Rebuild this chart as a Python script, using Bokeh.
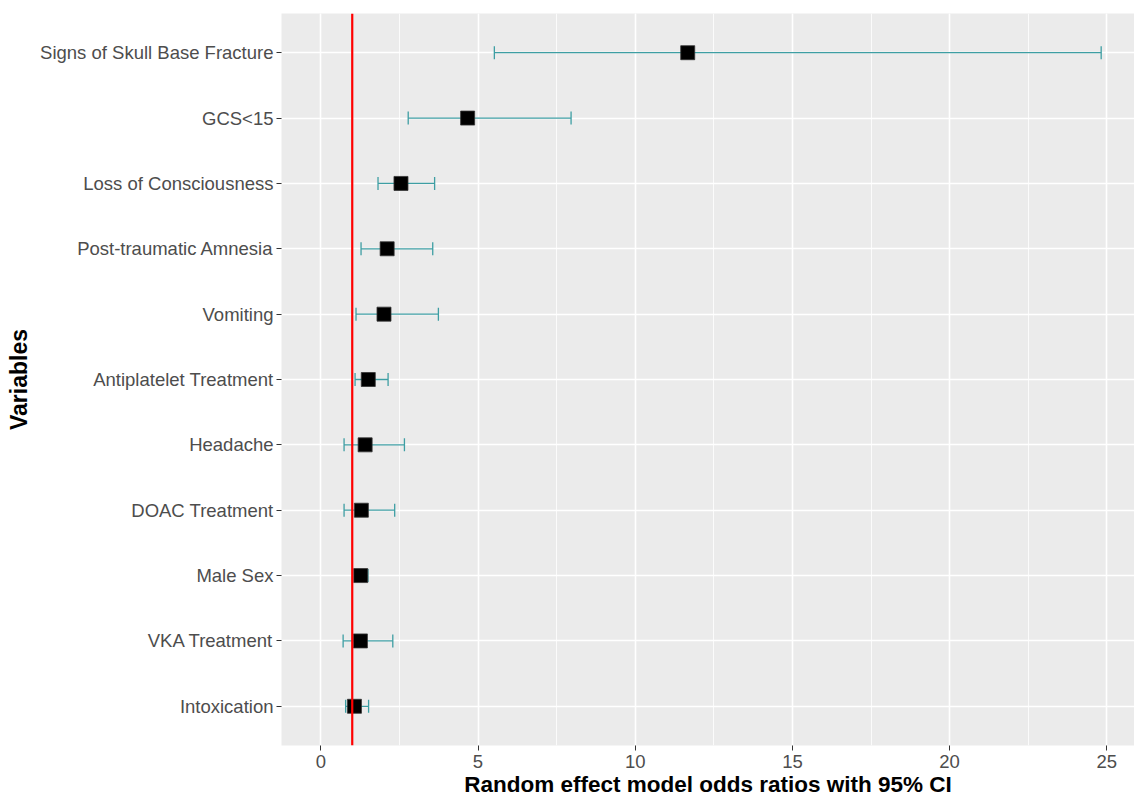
from bokeh.plotting import figure
from bokeh.models import (ColumnDataSource, FactorRange, Range1d, Whisker, TeeHead,
                          SingleIntervalTicker, Span)
from bokeh.embed import file_html
from bokeh.resources import INLINE

# Data (top to bottom as shown)
variables = ["Signs of Skull Base Fracture", "GCS<15", "Loss of Consciousness",
             "Post-traumatic Amnesia", "Vomiting", "Antiplatelet Treatment",
             "Headache", "DOAC Treatment", "Male Sex", "VKA Treatment", "Intoxication"]
odds_ratio = [11.67, 4.67, 2.55, 2.11, 2.01, 1.51, 1.41, 1.29, 1.27, 1.26, 1.07]
ci_lower = [5.52, 2.78, 1.82, 1.28, 1.12, 1.09, 0.74, 0.74, 1.09, 0.71, 0.79]
ci_upper = [24.82, 7.96, 3.62, 3.56, 3.74, 2.14, 2.66, 2.35, 1.50, 2.29, 1.52]
x_ticks = [0, 5, 10, 15, 20, 25]
reference_line = 1.0

src = ColumnDataSource(dict(var=variables, orr=odds_ratio, lo=ci_lower, hi=ci_upper))

FONT = "Liberation Sans"

p = figure(
    y_range=FactorRange(factors=list(reversed(variables)), range_padding=0.1,
                        range_padding_units="absolute"),
    x_range=Range1d(-1.25, 25.88),
    frame_width=853, frame_height=732,
    min_border_left=281, min_border_top=13, min_border_right=0, min_border_bottom=10,
    output_backend="svg", toolbar_location=None,
    background_fill_color="#EBEBEB", border_fill_color="white",
)
p.outline_line_color = None

# errorbars
wh = Whisker(source=src, base="var", lower="lo", upper="hi", dimension="width",
             line_color="#3E9EA3", line_width=1.3,
             lower_head=TeeHead(size=13, line_color="#3E9EA3", line_width=1.3),
             upper_head=TeeHead(size=13, line_color="#3E9EA3", line_width=1.3))
p.add_layout(wh)

# points
p.scatter(x="orr", y="var", source=src, marker="square", size=14,
          fill_color="black", line_color="#333333", line_width=0.8)

# reference line
p.add_layout(Span(location=reference_line, dimension="height",
                  line_color="#FF0000", line_width=2.2))

# axes
p.xaxis.ticker = SingleIntervalTicker(interval=5, num_minor_ticks=2)
p.xaxis.axis_label = "Random effect model odds ratios with 95% CI"
p.yaxis.axis_label = "Variables"
for ax in (p.xaxis[0], p.yaxis[0]):
    ax.axis_line_color = None
    ax.major_tick_line_color = "#333333"
    ax.major_tick_line_width = 1
    ax.major_tick_out = 5
    ax.major_tick_in = 0
    ax.minor_tick_line_color = None
    ax.major_label_text_font = FONT
    ax.major_label_text_font_size = "18.5px"
    ax.major_label_text_color = "#4D4D4D"
    ax.axis_label_text_font = FONT
    ax.axis_label_text_font_style = "bold"
    ax.axis_label_text_color = "black"
p.xaxis.axis_label_text_font_size = "22.5px"
p.yaxis.axis_label_text_font_size = "23px"
p.xaxis.major_label_standoff = 4
p.xaxis.axis_label_standoff = 1
p.yaxis.major_label_standoff = 3
p.yaxis.axis_label_standoff = 5

p.xgrid.grid_line_color = "white"
p.xgrid.grid_line_width = 1.6
p.xgrid.minor_grid_line_color = "white"
p.xgrid.minor_grid_line_width = 0.8
p.ygrid.grid_line_color = "white"
p.ygrid.grid_line_width = 1.6

open("out.html", "w").write(file_html(p, INLINE))
